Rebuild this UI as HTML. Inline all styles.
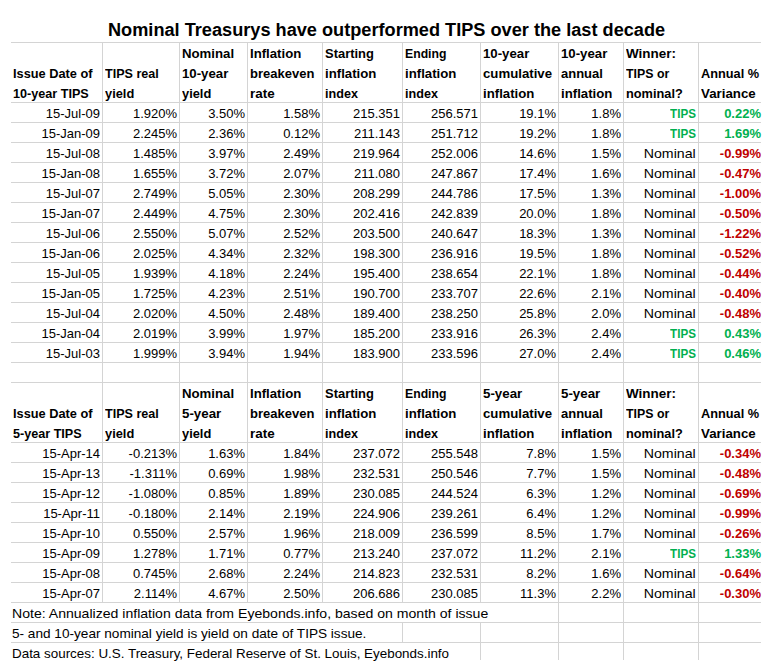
<!DOCTYPE html>
<html><head><meta charset="utf-8">
<style>
html,body{margin:0;padding:0;background:#fff;}
body{width:770px;height:668px;position:relative;overflow:hidden;font-family:"Liberation Sans",sans-serif;color:#000;}
.h{position:absolute;height:1px;background:#d4d4d4;}
.v{position:absolute;width:1px;background:#d4d4d4;}
.t{position:absolute;font-size:13px;line-height:20px;height:20px;white-space:nowrap;transform-origin:left center;}
.t.r{transform-origin:right center;}
.b{font-weight:bold;}
.g{color:#00b050;}
.rd{color:#c00000;}
.title{position:absolute;font-size:18px;font-weight:bold;line-height:20px;white-space:nowrap;transform-origin:left center;}
</style></head><body>
<div class="title" style="top:20px;left:108px;transform:scaleX(1.009)">Nominal Treasurys have outperformed TIPS over the last decade</div>
<div class="h" style="top:42px;left:11px;width:750px"></div>
<div class="h" style="top:102px;left:11px;width:750px"></div>
<div class="h" style="top:122px;left:11px;width:750px"></div>
<div class="h" style="top:142px;left:11px;width:750px"></div>
<div class="h" style="top:162px;left:11px;width:750px"></div>
<div class="h" style="top:182px;left:11px;width:750px"></div>
<div class="h" style="top:202px;left:11px;width:750px"></div>
<div class="h" style="top:222px;left:11px;width:750px"></div>
<div class="h" style="top:242px;left:11px;width:750px"></div>
<div class="h" style="top:262px;left:11px;width:750px"></div>
<div class="h" style="top:282px;left:11px;width:750px"></div>
<div class="h" style="top:302px;left:11px;width:750px"></div>
<div class="h" style="top:322px;left:11px;width:750px"></div>
<div class="h" style="top:342px;left:11px;width:750px"></div>
<div class="h" style="top:362px;left:11px;width:750px"></div>
<div class="h" style="top:382px;left:11px;width:750px"></div>
<div class="h" style="top:442px;left:11px;width:750px"></div>
<div class="h" style="top:462px;left:11px;width:750px"></div>
<div class="h" style="top:482px;left:11px;width:750px"></div>
<div class="h" style="top:502px;left:11px;width:750px"></div>
<div class="h" style="top:522px;left:11px;width:750px"></div>
<div class="h" style="top:542px;left:11px;width:750px"></div>
<div class="h" style="top:562px;left:11px;width:750px"></div>
<div class="h" style="top:582px;left:11px;width:750px"></div>
<div class="h" style="top:602px;left:11px;width:750px"></div>
<div class="h" style="top:622px;left:11px;width:750px"></div>
<div class="h" style="top:642px;left:11px;width:750px"></div>
<div class="v" style="left:102px;top:42px;height:20px"></div>
<div class="v" style="left:179px;top:42px;height:20px"></div>
<div class="v" style="left:247px;top:42px;height:20px"></div>
<div class="v" style="left:322px;top:42px;height:20px"></div>
<div class="v" style="left:402px;top:42px;height:20px"></div>
<div class="v" style="left:480px;top:42px;height:20px"></div>
<div class="v" style="left:558px;top:42px;height:20px"></div>
<div class="v" style="left:623px;top:42px;height:20px"></div>
<div class="v" style="left:698px;top:42px;height:20px"></div>
<div class="v" style="left:102px;top:62px;height:20px"></div>
<div class="v" style="left:179px;top:62px;height:20px"></div>
<div class="v" style="left:247px;top:62px;height:20px"></div>
<div class="v" style="left:322px;top:62px;height:20px"></div>
<div class="v" style="left:402px;top:62px;height:20px"></div>
<div class="v" style="left:480px;top:62px;height:20px"></div>
<div class="v" style="left:558px;top:62px;height:20px"></div>
<div class="v" style="left:623px;top:62px;height:20px"></div>
<div class="v" style="left:698px;top:62px;height:20px"></div>
<div class="v" style="left:102px;top:82px;height:20px"></div>
<div class="v" style="left:179px;top:82px;height:20px"></div>
<div class="v" style="left:247px;top:82px;height:20px"></div>
<div class="v" style="left:322px;top:82px;height:20px"></div>
<div class="v" style="left:402px;top:82px;height:20px"></div>
<div class="v" style="left:480px;top:82px;height:20px"></div>
<div class="v" style="left:558px;top:82px;height:20px"></div>
<div class="v" style="left:623px;top:82px;height:20px"></div>
<div class="v" style="left:698px;top:82px;height:20px"></div>
<div class="v" style="left:102px;top:102px;height:20px"></div>
<div class="v" style="left:179px;top:102px;height:20px"></div>
<div class="v" style="left:247px;top:102px;height:20px"></div>
<div class="v" style="left:322px;top:102px;height:20px"></div>
<div class="v" style="left:402px;top:102px;height:20px"></div>
<div class="v" style="left:480px;top:102px;height:20px"></div>
<div class="v" style="left:558px;top:102px;height:20px"></div>
<div class="v" style="left:623px;top:102px;height:20px"></div>
<div class="v" style="left:698px;top:102px;height:20px"></div>
<div class="v" style="left:102px;top:122px;height:20px"></div>
<div class="v" style="left:179px;top:122px;height:20px"></div>
<div class="v" style="left:247px;top:122px;height:20px"></div>
<div class="v" style="left:322px;top:122px;height:20px"></div>
<div class="v" style="left:402px;top:122px;height:20px"></div>
<div class="v" style="left:480px;top:122px;height:20px"></div>
<div class="v" style="left:558px;top:122px;height:20px"></div>
<div class="v" style="left:623px;top:122px;height:20px"></div>
<div class="v" style="left:698px;top:122px;height:20px"></div>
<div class="v" style="left:102px;top:142px;height:20px"></div>
<div class="v" style="left:179px;top:142px;height:20px"></div>
<div class="v" style="left:247px;top:142px;height:20px"></div>
<div class="v" style="left:322px;top:142px;height:20px"></div>
<div class="v" style="left:402px;top:142px;height:20px"></div>
<div class="v" style="left:480px;top:142px;height:20px"></div>
<div class="v" style="left:558px;top:142px;height:20px"></div>
<div class="v" style="left:623px;top:142px;height:20px"></div>
<div class="v" style="left:698px;top:142px;height:20px"></div>
<div class="v" style="left:102px;top:162px;height:20px"></div>
<div class="v" style="left:179px;top:162px;height:20px"></div>
<div class="v" style="left:247px;top:162px;height:20px"></div>
<div class="v" style="left:322px;top:162px;height:20px"></div>
<div class="v" style="left:402px;top:162px;height:20px"></div>
<div class="v" style="left:480px;top:162px;height:20px"></div>
<div class="v" style="left:558px;top:162px;height:20px"></div>
<div class="v" style="left:623px;top:162px;height:20px"></div>
<div class="v" style="left:698px;top:162px;height:20px"></div>
<div class="v" style="left:102px;top:182px;height:20px"></div>
<div class="v" style="left:179px;top:182px;height:20px"></div>
<div class="v" style="left:247px;top:182px;height:20px"></div>
<div class="v" style="left:322px;top:182px;height:20px"></div>
<div class="v" style="left:402px;top:182px;height:20px"></div>
<div class="v" style="left:480px;top:182px;height:20px"></div>
<div class="v" style="left:558px;top:182px;height:20px"></div>
<div class="v" style="left:623px;top:182px;height:20px"></div>
<div class="v" style="left:698px;top:182px;height:20px"></div>
<div class="v" style="left:102px;top:202px;height:20px"></div>
<div class="v" style="left:179px;top:202px;height:20px"></div>
<div class="v" style="left:247px;top:202px;height:20px"></div>
<div class="v" style="left:322px;top:202px;height:20px"></div>
<div class="v" style="left:402px;top:202px;height:20px"></div>
<div class="v" style="left:480px;top:202px;height:20px"></div>
<div class="v" style="left:558px;top:202px;height:20px"></div>
<div class="v" style="left:623px;top:202px;height:20px"></div>
<div class="v" style="left:698px;top:202px;height:20px"></div>
<div class="v" style="left:102px;top:222px;height:20px"></div>
<div class="v" style="left:179px;top:222px;height:20px"></div>
<div class="v" style="left:247px;top:222px;height:20px"></div>
<div class="v" style="left:322px;top:222px;height:20px"></div>
<div class="v" style="left:402px;top:222px;height:20px"></div>
<div class="v" style="left:480px;top:222px;height:20px"></div>
<div class="v" style="left:558px;top:222px;height:20px"></div>
<div class="v" style="left:623px;top:222px;height:20px"></div>
<div class="v" style="left:698px;top:222px;height:20px"></div>
<div class="v" style="left:102px;top:242px;height:20px"></div>
<div class="v" style="left:179px;top:242px;height:20px"></div>
<div class="v" style="left:247px;top:242px;height:20px"></div>
<div class="v" style="left:322px;top:242px;height:20px"></div>
<div class="v" style="left:402px;top:242px;height:20px"></div>
<div class="v" style="left:480px;top:242px;height:20px"></div>
<div class="v" style="left:558px;top:242px;height:20px"></div>
<div class="v" style="left:623px;top:242px;height:20px"></div>
<div class="v" style="left:698px;top:242px;height:20px"></div>
<div class="v" style="left:102px;top:262px;height:20px"></div>
<div class="v" style="left:179px;top:262px;height:20px"></div>
<div class="v" style="left:247px;top:262px;height:20px"></div>
<div class="v" style="left:322px;top:262px;height:20px"></div>
<div class="v" style="left:402px;top:262px;height:20px"></div>
<div class="v" style="left:480px;top:262px;height:20px"></div>
<div class="v" style="left:558px;top:262px;height:20px"></div>
<div class="v" style="left:623px;top:262px;height:20px"></div>
<div class="v" style="left:698px;top:262px;height:20px"></div>
<div class="v" style="left:102px;top:282px;height:20px"></div>
<div class="v" style="left:179px;top:282px;height:20px"></div>
<div class="v" style="left:247px;top:282px;height:20px"></div>
<div class="v" style="left:322px;top:282px;height:20px"></div>
<div class="v" style="left:402px;top:282px;height:20px"></div>
<div class="v" style="left:480px;top:282px;height:20px"></div>
<div class="v" style="left:558px;top:282px;height:20px"></div>
<div class="v" style="left:623px;top:282px;height:20px"></div>
<div class="v" style="left:698px;top:282px;height:20px"></div>
<div class="v" style="left:102px;top:302px;height:20px"></div>
<div class="v" style="left:179px;top:302px;height:20px"></div>
<div class="v" style="left:247px;top:302px;height:20px"></div>
<div class="v" style="left:322px;top:302px;height:20px"></div>
<div class="v" style="left:402px;top:302px;height:20px"></div>
<div class="v" style="left:480px;top:302px;height:20px"></div>
<div class="v" style="left:558px;top:302px;height:20px"></div>
<div class="v" style="left:623px;top:302px;height:20px"></div>
<div class="v" style="left:698px;top:302px;height:20px"></div>
<div class="v" style="left:102px;top:322px;height:20px"></div>
<div class="v" style="left:179px;top:322px;height:20px"></div>
<div class="v" style="left:247px;top:322px;height:20px"></div>
<div class="v" style="left:322px;top:322px;height:20px"></div>
<div class="v" style="left:402px;top:322px;height:20px"></div>
<div class="v" style="left:480px;top:322px;height:20px"></div>
<div class="v" style="left:558px;top:322px;height:20px"></div>
<div class="v" style="left:623px;top:322px;height:20px"></div>
<div class="v" style="left:698px;top:322px;height:20px"></div>
<div class="v" style="left:102px;top:342px;height:20px"></div>
<div class="v" style="left:179px;top:342px;height:20px"></div>
<div class="v" style="left:247px;top:342px;height:20px"></div>
<div class="v" style="left:322px;top:342px;height:20px"></div>
<div class="v" style="left:402px;top:342px;height:20px"></div>
<div class="v" style="left:480px;top:342px;height:20px"></div>
<div class="v" style="left:558px;top:342px;height:20px"></div>
<div class="v" style="left:623px;top:342px;height:20px"></div>
<div class="v" style="left:698px;top:342px;height:20px"></div>
<div class="v" style="left:102px;top:362px;height:20px"></div>
<div class="v" style="left:179px;top:362px;height:20px"></div>
<div class="v" style="left:247px;top:362px;height:20px"></div>
<div class="v" style="left:322px;top:362px;height:20px"></div>
<div class="v" style="left:402px;top:362px;height:20px"></div>
<div class="v" style="left:480px;top:362px;height:20px"></div>
<div class="v" style="left:558px;top:362px;height:20px"></div>
<div class="v" style="left:623px;top:362px;height:20px"></div>
<div class="v" style="left:698px;top:362px;height:20px"></div>
<div class="v" style="left:102px;top:382px;height:20px"></div>
<div class="v" style="left:179px;top:382px;height:20px"></div>
<div class="v" style="left:247px;top:382px;height:20px"></div>
<div class="v" style="left:322px;top:382px;height:20px"></div>
<div class="v" style="left:402px;top:382px;height:20px"></div>
<div class="v" style="left:480px;top:382px;height:20px"></div>
<div class="v" style="left:558px;top:382px;height:20px"></div>
<div class="v" style="left:623px;top:382px;height:20px"></div>
<div class="v" style="left:698px;top:382px;height:20px"></div>
<div class="v" style="left:102px;top:402px;height:20px"></div>
<div class="v" style="left:179px;top:402px;height:20px"></div>
<div class="v" style="left:247px;top:402px;height:20px"></div>
<div class="v" style="left:322px;top:402px;height:20px"></div>
<div class="v" style="left:402px;top:402px;height:20px"></div>
<div class="v" style="left:480px;top:402px;height:20px"></div>
<div class="v" style="left:558px;top:402px;height:20px"></div>
<div class="v" style="left:623px;top:402px;height:20px"></div>
<div class="v" style="left:698px;top:402px;height:20px"></div>
<div class="v" style="left:102px;top:422px;height:20px"></div>
<div class="v" style="left:179px;top:422px;height:20px"></div>
<div class="v" style="left:247px;top:422px;height:20px"></div>
<div class="v" style="left:322px;top:422px;height:20px"></div>
<div class="v" style="left:402px;top:422px;height:20px"></div>
<div class="v" style="left:480px;top:422px;height:20px"></div>
<div class="v" style="left:558px;top:422px;height:20px"></div>
<div class="v" style="left:623px;top:422px;height:20px"></div>
<div class="v" style="left:698px;top:422px;height:20px"></div>
<div class="v" style="left:102px;top:442px;height:20px"></div>
<div class="v" style="left:179px;top:442px;height:20px"></div>
<div class="v" style="left:247px;top:442px;height:20px"></div>
<div class="v" style="left:322px;top:442px;height:20px"></div>
<div class="v" style="left:402px;top:442px;height:20px"></div>
<div class="v" style="left:480px;top:442px;height:20px"></div>
<div class="v" style="left:558px;top:442px;height:20px"></div>
<div class="v" style="left:623px;top:442px;height:20px"></div>
<div class="v" style="left:698px;top:442px;height:20px"></div>
<div class="v" style="left:102px;top:462px;height:20px"></div>
<div class="v" style="left:179px;top:462px;height:20px"></div>
<div class="v" style="left:247px;top:462px;height:20px"></div>
<div class="v" style="left:322px;top:462px;height:20px"></div>
<div class="v" style="left:402px;top:462px;height:20px"></div>
<div class="v" style="left:480px;top:462px;height:20px"></div>
<div class="v" style="left:558px;top:462px;height:20px"></div>
<div class="v" style="left:623px;top:462px;height:20px"></div>
<div class="v" style="left:698px;top:462px;height:20px"></div>
<div class="v" style="left:102px;top:482px;height:20px"></div>
<div class="v" style="left:179px;top:482px;height:20px"></div>
<div class="v" style="left:247px;top:482px;height:20px"></div>
<div class="v" style="left:322px;top:482px;height:20px"></div>
<div class="v" style="left:402px;top:482px;height:20px"></div>
<div class="v" style="left:480px;top:482px;height:20px"></div>
<div class="v" style="left:558px;top:482px;height:20px"></div>
<div class="v" style="left:623px;top:482px;height:20px"></div>
<div class="v" style="left:698px;top:482px;height:20px"></div>
<div class="v" style="left:102px;top:502px;height:20px"></div>
<div class="v" style="left:179px;top:502px;height:20px"></div>
<div class="v" style="left:247px;top:502px;height:20px"></div>
<div class="v" style="left:322px;top:502px;height:20px"></div>
<div class="v" style="left:402px;top:502px;height:20px"></div>
<div class="v" style="left:480px;top:502px;height:20px"></div>
<div class="v" style="left:558px;top:502px;height:20px"></div>
<div class="v" style="left:623px;top:502px;height:20px"></div>
<div class="v" style="left:698px;top:502px;height:20px"></div>
<div class="v" style="left:102px;top:522px;height:20px"></div>
<div class="v" style="left:179px;top:522px;height:20px"></div>
<div class="v" style="left:247px;top:522px;height:20px"></div>
<div class="v" style="left:322px;top:522px;height:20px"></div>
<div class="v" style="left:402px;top:522px;height:20px"></div>
<div class="v" style="left:480px;top:522px;height:20px"></div>
<div class="v" style="left:558px;top:522px;height:20px"></div>
<div class="v" style="left:623px;top:522px;height:20px"></div>
<div class="v" style="left:698px;top:522px;height:20px"></div>
<div class="v" style="left:102px;top:542px;height:20px"></div>
<div class="v" style="left:179px;top:542px;height:20px"></div>
<div class="v" style="left:247px;top:542px;height:20px"></div>
<div class="v" style="left:322px;top:542px;height:20px"></div>
<div class="v" style="left:402px;top:542px;height:20px"></div>
<div class="v" style="left:480px;top:542px;height:20px"></div>
<div class="v" style="left:558px;top:542px;height:20px"></div>
<div class="v" style="left:623px;top:542px;height:20px"></div>
<div class="v" style="left:698px;top:542px;height:20px"></div>
<div class="v" style="left:102px;top:562px;height:20px"></div>
<div class="v" style="left:179px;top:562px;height:20px"></div>
<div class="v" style="left:247px;top:562px;height:20px"></div>
<div class="v" style="left:322px;top:562px;height:20px"></div>
<div class="v" style="left:402px;top:562px;height:20px"></div>
<div class="v" style="left:480px;top:562px;height:20px"></div>
<div class="v" style="left:558px;top:562px;height:20px"></div>
<div class="v" style="left:623px;top:562px;height:20px"></div>
<div class="v" style="left:698px;top:562px;height:20px"></div>
<div class="v" style="left:102px;top:582px;height:20px"></div>
<div class="v" style="left:179px;top:582px;height:20px"></div>
<div class="v" style="left:247px;top:582px;height:20px"></div>
<div class="v" style="left:322px;top:582px;height:20px"></div>
<div class="v" style="left:402px;top:582px;height:20px"></div>
<div class="v" style="left:480px;top:582px;height:20px"></div>
<div class="v" style="left:558px;top:582px;height:20px"></div>
<div class="v" style="left:623px;top:582px;height:20px"></div>
<div class="v" style="left:698px;top:582px;height:20px"></div>
<div class="v" style="left:558px;top:602px;height:20px"></div>
<div class="v" style="left:623px;top:602px;height:20px"></div>
<div class="v" style="left:698px;top:602px;height:20px"></div>
<div class="v" style="left:402px;top:622px;height:20px"></div>
<div class="v" style="left:480px;top:622px;height:20px"></div>
<div class="v" style="left:558px;top:622px;height:20px"></div>
<div class="v" style="left:623px;top:622px;height:20px"></div>
<div class="v" style="left:698px;top:622px;height:20px"></div>
<div class="v" style="left:480px;top:642px;height:18px"></div>
<div class="v" style="left:558px;top:642px;height:18px"></div>
<div class="v" style="left:623px;top:642px;height:18px"></div>
<div class="v" style="left:698px;top:642px;height:18px"></div>
<div class="t b" style="top:44px;left:182px;transform:scaleX(1.016);">Nominal</div>
<div class="t b" style="top:44px;left:250px;transform:scaleX(1.0148);">Inflation</div>
<div class="t b" style="top:44px;left:325px;transform:scaleX(0.995);">Starting</div>
<div class="t b" style="top:44px;left:405px;transform:scaleX(0.9407);">Ending</div>
<div class="t b" style="top:44px;left:483px;transform:scaleX(1.0167);">10-year</div>
<div class="t b" style="top:44px;left:561px;transform:scaleX(1.0167);">10-year</div>
<div class="t b" style="top:44px;left:626px;transform:scaleX(1.0364);">Winner:</div>
<div class="t b" style="top:64px;left:12.5px;transform:scaleX(0.9826);">Issue Date of</div>
<div class="t b" style="top:64px;left:105px;transform:scaleX(0.9658);">TIPS real</div>
<div class="t b" style="top:64px;left:182px;transform:scaleX(1.0167);">10-year</div>
<div class="t b" style="top:64px;left:250px;">breakeven</div>
<div class="t b" style="top:64px;left:325px;transform:scaleX(1.0161);">inflation</div>
<div class="t b" style="top:64px;left:405px;transform:scaleX(1.0161);">inflation</div>
<div class="t b" style="top:64px;left:483px;transform:scaleX(1.016);">cumulative</div>
<div class="t b" style="top:64px;left:561px;">annual</div>
<div class="t b" style="top:64px;left:626px;transform:scaleX(0.9505);">TIPS or</div>
<div class="t b" style="top:64px;left:701px;transform:scaleX(0.9818);">Annual %</div>
<div class="t b" style="top:84px;left:12.5px;transform:scaleX(0.9705);">10-year TIPS</div>
<div class="t b" style="top:84px;left:105px;transform:scaleX(0.9878);">yield</div>
<div class="t b" style="top:84px;left:182px;transform:scaleX(0.9878);">yield</div>
<div class="t b" style="top:84px;left:250px;transform:scaleX(1.0323);">rate</div>
<div class="t b" style="top:84px;left:325px;transform:scaleX(0.9691);">index</div>
<div class="t b" style="top:84px;left:405px;transform:scaleX(0.9691);">index</div>
<div class="t b" style="top:84px;left:483px;transform:scaleX(1.0161);">inflation</div>
<div class="t b" style="top:84px;left:561px;transform:scaleX(1.0161);">inflation</div>
<div class="t b" style="top:84px;left:626px;transform:scaleX(0.9826);">nominal?</div>
<div class="t b" style="top:84px;left:701px;transform:scaleX(1.0226);">Variance</div>
<div class="t r" style="top:104px;right:670px;">15-Jul-09</div>
<div class="t r" style="top:104px;right:593px;">1.920%</div>
<div class="t r" style="top:104px;right:525px;">3.50%</div>
<div class="t r" style="top:104px;right:450px;">1.58%</div>
<div class="t r" style="top:104px;right:370px;">215.351</div>
<div class="t r" style="top:104px;right:292px;">256.571</div>
<div class="t r" style="top:104px;right:214px;">19.1%</div>
<div class="t r" style="top:104px;right:149px;">1.8%</div>
<div class="t b g r" style="top:104px;right:74px;transform:scaleX(0.8922);">TIPS</div>
<div class="t b g r" style="top:104px;right:9px;">0.22%</div>
<div class="t r" style="top:124px;right:670px;">15-Jan-09</div>
<div class="t r" style="top:124px;right:593px;">2.245%</div>
<div class="t r" style="top:124px;right:525px;">2.36%</div>
<div class="t r" style="top:124px;right:450px;">0.12%</div>
<div class="t r" style="top:124px;right:370px;">211.143</div>
<div class="t r" style="top:124px;right:292px;">251.712</div>
<div class="t r" style="top:124px;right:214px;">19.2%</div>
<div class="t r" style="top:124px;right:149px;">1.8%</div>
<div class="t b g r" style="top:124px;right:74px;transform:scaleX(0.8922);">TIPS</div>
<div class="t b g r" style="top:124px;right:9px;">1.69%</div>
<div class="t r" style="top:144px;right:670px;">15-Jul-08</div>
<div class="t r" style="top:144px;right:593px;">1.485%</div>
<div class="t r" style="top:144px;right:525px;">3.97%</div>
<div class="t r" style="top:144px;right:450px;">2.49%</div>
<div class="t r" style="top:144px;right:370px;">219.964</div>
<div class="t r" style="top:144px;right:292px;">252.006</div>
<div class="t r" style="top:144px;right:214px;">14.6%</div>
<div class="t r" style="top:144px;right:149px;">1.5%</div>
<div class="t r" style="top:144px;right:74px;transform:scaleX(1.0899);">Nominal</div>
<div class="t b rd r" style="top:144px;right:9px;">-0.99%</div>
<div class="t r" style="top:164px;right:670px;">15-Jan-08</div>
<div class="t r" style="top:164px;right:593px;">1.655%</div>
<div class="t r" style="top:164px;right:525px;">3.72%</div>
<div class="t r" style="top:164px;right:450px;">2.07%</div>
<div class="t r" style="top:164px;right:370px;">211.080</div>
<div class="t r" style="top:164px;right:292px;">247.867</div>
<div class="t r" style="top:164px;right:214px;">17.4%</div>
<div class="t r" style="top:164px;right:149px;">1.6%</div>
<div class="t r" style="top:164px;right:74px;transform:scaleX(1.0899);">Nominal</div>
<div class="t b rd r" style="top:164px;right:9px;">-0.47%</div>
<div class="t r" style="top:184px;right:670px;">15-Jul-07</div>
<div class="t r" style="top:184px;right:593px;">2.749%</div>
<div class="t r" style="top:184px;right:525px;">5.05%</div>
<div class="t r" style="top:184px;right:450px;">2.30%</div>
<div class="t r" style="top:184px;right:370px;">208.299</div>
<div class="t r" style="top:184px;right:292px;">244.786</div>
<div class="t r" style="top:184px;right:214px;">17.5%</div>
<div class="t r" style="top:184px;right:149px;">1.3%</div>
<div class="t r" style="top:184px;right:74px;transform:scaleX(1.0899);">Nominal</div>
<div class="t b rd r" style="top:184px;right:9px;">-1.00%</div>
<div class="t r" style="top:204px;right:670px;">15-Jan-07</div>
<div class="t r" style="top:204px;right:593px;">2.449%</div>
<div class="t r" style="top:204px;right:525px;">4.75%</div>
<div class="t r" style="top:204px;right:450px;">2.30%</div>
<div class="t r" style="top:204px;right:370px;">202.416</div>
<div class="t r" style="top:204px;right:292px;">242.839</div>
<div class="t r" style="top:204px;right:214px;">20.0%</div>
<div class="t r" style="top:204px;right:149px;">1.8%</div>
<div class="t r" style="top:204px;right:74px;transform:scaleX(1.0899);">Nominal</div>
<div class="t b rd r" style="top:204px;right:9px;">-0.50%</div>
<div class="t r" style="top:224px;right:670px;">15-Jul-06</div>
<div class="t r" style="top:224px;right:593px;">2.550%</div>
<div class="t r" style="top:224px;right:525px;">5.07%</div>
<div class="t r" style="top:224px;right:450px;">2.52%</div>
<div class="t r" style="top:224px;right:370px;">203.500</div>
<div class="t r" style="top:224px;right:292px;">240.647</div>
<div class="t r" style="top:224px;right:214px;">18.3%</div>
<div class="t r" style="top:224px;right:149px;">1.3%</div>
<div class="t r" style="top:224px;right:74px;transform:scaleX(1.0899);">Nominal</div>
<div class="t b rd r" style="top:224px;right:9px;">-1.22%</div>
<div class="t r" style="top:244px;right:670px;">15-Jan-06</div>
<div class="t r" style="top:244px;right:593px;">2.025%</div>
<div class="t r" style="top:244px;right:525px;">4.34%</div>
<div class="t r" style="top:244px;right:450px;">2.32%</div>
<div class="t r" style="top:244px;right:370px;">198.300</div>
<div class="t r" style="top:244px;right:292px;">236.916</div>
<div class="t r" style="top:244px;right:214px;">19.5%</div>
<div class="t r" style="top:244px;right:149px;">1.8%</div>
<div class="t r" style="top:244px;right:74px;transform:scaleX(1.0899);">Nominal</div>
<div class="t b rd r" style="top:244px;right:9px;">-0.52%</div>
<div class="t r" style="top:264px;right:670px;">15-Jul-05</div>
<div class="t r" style="top:264px;right:593px;">1.939%</div>
<div class="t r" style="top:264px;right:525px;">4.18%</div>
<div class="t r" style="top:264px;right:450px;">2.24%</div>
<div class="t r" style="top:264px;right:370px;">195.400</div>
<div class="t r" style="top:264px;right:292px;">238.654</div>
<div class="t r" style="top:264px;right:214px;">22.1%</div>
<div class="t r" style="top:264px;right:149px;">1.8%</div>
<div class="t r" style="top:264px;right:74px;transform:scaleX(1.0899);">Nominal</div>
<div class="t b rd r" style="top:264px;right:9px;">-0.44%</div>
<div class="t r" style="top:284px;right:670px;">15-Jan-05</div>
<div class="t r" style="top:284px;right:593px;">1.725%</div>
<div class="t r" style="top:284px;right:525px;">4.23%</div>
<div class="t r" style="top:284px;right:450px;">2.51%</div>
<div class="t r" style="top:284px;right:370px;">190.700</div>
<div class="t r" style="top:284px;right:292px;">233.707</div>
<div class="t r" style="top:284px;right:214px;">22.6%</div>
<div class="t r" style="top:284px;right:149px;">2.1%</div>
<div class="t r" style="top:284px;right:74px;transform:scaleX(1.0899);">Nominal</div>
<div class="t b rd r" style="top:284px;right:9px;">-0.40%</div>
<div class="t r" style="top:304px;right:670px;">15-Jul-04</div>
<div class="t r" style="top:304px;right:593px;">2.020%</div>
<div class="t r" style="top:304px;right:525px;">4.50%</div>
<div class="t r" style="top:304px;right:450px;">2.48%</div>
<div class="t r" style="top:304px;right:370px;">189.400</div>
<div class="t r" style="top:304px;right:292px;">238.250</div>
<div class="t r" style="top:304px;right:214px;">25.8%</div>
<div class="t r" style="top:304px;right:149px;">2.0%</div>
<div class="t r" style="top:304px;right:74px;transform:scaleX(1.0899);">Nominal</div>
<div class="t b rd r" style="top:304px;right:9px;">-0.48%</div>
<div class="t r" style="top:324px;right:670px;">15-Jan-04</div>
<div class="t r" style="top:324px;right:593px;">2.019%</div>
<div class="t r" style="top:324px;right:525px;">3.99%</div>
<div class="t r" style="top:324px;right:450px;">1.97%</div>
<div class="t r" style="top:324px;right:370px;">185.200</div>
<div class="t r" style="top:324px;right:292px;">233.916</div>
<div class="t r" style="top:324px;right:214px;">26.3%</div>
<div class="t r" style="top:324px;right:149px;">2.4%</div>
<div class="t b g r" style="top:324px;right:74px;transform:scaleX(0.8922);">TIPS</div>
<div class="t b g r" style="top:324px;right:9px;">0.43%</div>
<div class="t r" style="top:344px;right:670px;">15-Jul-03</div>
<div class="t r" style="top:344px;right:593px;">1.999%</div>
<div class="t r" style="top:344px;right:525px;">3.94%</div>
<div class="t r" style="top:344px;right:450px;">1.94%</div>
<div class="t r" style="top:344px;right:370px;">183.900</div>
<div class="t r" style="top:344px;right:292px;">233.596</div>
<div class="t r" style="top:344px;right:214px;">27.0%</div>
<div class="t r" style="top:344px;right:149px;">2.4%</div>
<div class="t b g r" style="top:344px;right:74px;transform:scaleX(0.8922);">TIPS</div>
<div class="t b g r" style="top:344px;right:9px;">0.46%</div>
<div class="t b" style="top:384px;left:182px;transform:scaleX(1.016);">Nominal</div>
<div class="t b" style="top:384px;left:250px;transform:scaleX(1.0148);">Inflation</div>
<div class="t b" style="top:384px;left:325px;transform:scaleX(0.995);">Starting</div>
<div class="t b" style="top:384px;left:405px;transform:scaleX(0.9407);">Ending</div>
<div class="t b" style="top:384px;left:483px;transform:scaleX(1.0241);">5-year</div>
<div class="t b" style="top:384px;left:561px;transform:scaleX(1.0241);">5-year</div>
<div class="t b" style="top:384px;left:626px;transform:scaleX(1.0364);">Winner:</div>
<div class="t b" style="top:404px;left:12.5px;transform:scaleX(0.9826);">Issue Date of</div>
<div class="t b" style="top:404px;left:105px;transform:scaleX(0.9658);">TIPS real</div>
<div class="t b" style="top:404px;left:182px;transform:scaleX(1.0241);">5-year</div>
<div class="t b" style="top:404px;left:250px;">breakeven</div>
<div class="t b" style="top:404px;left:325px;transform:scaleX(1.0161);">inflation</div>
<div class="t b" style="top:404px;left:405px;transform:scaleX(1.0161);">inflation</div>
<div class="t b" style="top:404px;left:483px;transform:scaleX(1.016);">cumulative</div>
<div class="t b" style="top:404px;left:561px;">annual</div>
<div class="t b" style="top:404px;left:626px;transform:scaleX(0.9505);">TIPS or</div>
<div class="t b" style="top:404px;left:701px;transform:scaleX(0.9818);">Annual %</div>
<div class="t b" style="top:424px;left:12.5px;transform:scaleX(0.9698);">5-year TIPS</div>
<div class="t b" style="top:424px;left:105px;transform:scaleX(0.9878);">yield</div>
<div class="t b" style="top:424px;left:182px;transform:scaleX(0.9878);">yield</div>
<div class="t b" style="top:424px;left:250px;transform:scaleX(1.0323);">rate</div>
<div class="t b" style="top:424px;left:325px;transform:scaleX(0.9691);">index</div>
<div class="t b" style="top:424px;left:405px;transform:scaleX(0.9691);">index</div>
<div class="t b" style="top:424px;left:483px;transform:scaleX(1.0161);">inflation</div>
<div class="t b" style="top:424px;left:561px;transform:scaleX(1.0161);">inflation</div>
<div class="t b" style="top:424px;left:626px;transform:scaleX(0.9826);">nominal?</div>
<div class="t b" style="top:424px;left:701px;transform:scaleX(1.0226);">Variance</div>
<div class="t r" style="top:444px;right:670px;">15-Apr-14</div>
<div class="t r" style="top:444px;right:593px;">-0.213%</div>
<div class="t r" style="top:444px;right:525px;">1.63%</div>
<div class="t r" style="top:444px;right:450px;">1.84%</div>
<div class="t r" style="top:444px;right:370px;">237.072</div>
<div class="t r" style="top:444px;right:292px;">255.548</div>
<div class="t r" style="top:444px;right:214px;">7.8%</div>
<div class="t r" style="top:444px;right:149px;">1.5%</div>
<div class="t r" style="top:444px;right:74px;transform:scaleX(1.0899);">Nominal</div>
<div class="t b rd r" style="top:444px;right:9px;">-0.34%</div>
<div class="t r" style="top:464px;right:670px;">15-Apr-13</div>
<div class="t r" style="top:464px;right:593px;">-1.311%</div>
<div class="t r" style="top:464px;right:525px;">0.69%</div>
<div class="t r" style="top:464px;right:450px;">1.98%</div>
<div class="t r" style="top:464px;right:370px;">232.531</div>
<div class="t r" style="top:464px;right:292px;">250.546</div>
<div class="t r" style="top:464px;right:214px;">7.7%</div>
<div class="t r" style="top:464px;right:149px;">1.5%</div>
<div class="t r" style="top:464px;right:74px;transform:scaleX(1.0899);">Nominal</div>
<div class="t b rd r" style="top:464px;right:9px;">-0.48%</div>
<div class="t r" style="top:484px;right:670px;">15-Apr-12</div>
<div class="t r" style="top:484px;right:593px;">-1.080%</div>
<div class="t r" style="top:484px;right:525px;">0.85%</div>
<div class="t r" style="top:484px;right:450px;">1.89%</div>
<div class="t r" style="top:484px;right:370px;">230.085</div>
<div class="t r" style="top:484px;right:292px;">244.524</div>
<div class="t r" style="top:484px;right:214px;">6.3%</div>
<div class="t r" style="top:484px;right:149px;">1.2%</div>
<div class="t r" style="top:484px;right:74px;transform:scaleX(1.0899);">Nominal</div>
<div class="t b rd r" style="top:484px;right:9px;">-0.69%</div>
<div class="t r" style="top:504px;right:670px;">15-Apr-11</div>
<div class="t r" style="top:504px;right:593px;">-0.180%</div>
<div class="t r" style="top:504px;right:525px;">2.14%</div>
<div class="t r" style="top:504px;right:450px;">2.19%</div>
<div class="t r" style="top:504px;right:370px;">224.906</div>
<div class="t r" style="top:504px;right:292px;">239.261</div>
<div class="t r" style="top:504px;right:214px;">6.4%</div>
<div class="t r" style="top:504px;right:149px;">1.2%</div>
<div class="t r" style="top:504px;right:74px;transform:scaleX(1.0899);">Nominal</div>
<div class="t b rd r" style="top:504px;right:9px;">-0.99%</div>
<div class="t r" style="top:524px;right:670px;">15-Apr-10</div>
<div class="t r" style="top:524px;right:593px;">0.550%</div>
<div class="t r" style="top:524px;right:525px;">2.57%</div>
<div class="t r" style="top:524px;right:450px;">1.96%</div>
<div class="t r" style="top:524px;right:370px;">218.009</div>
<div class="t r" style="top:524px;right:292px;">236.599</div>
<div class="t r" style="top:524px;right:214px;">8.5%</div>
<div class="t r" style="top:524px;right:149px;">1.7%</div>
<div class="t r" style="top:524px;right:74px;transform:scaleX(1.0899);">Nominal</div>
<div class="t b rd r" style="top:524px;right:9px;">-0.26%</div>
<div class="t r" style="top:544px;right:670px;">15-Apr-09</div>
<div class="t r" style="top:544px;right:593px;">1.278%</div>
<div class="t r" style="top:544px;right:525px;">1.71%</div>
<div class="t r" style="top:544px;right:450px;">0.77%</div>
<div class="t r" style="top:544px;right:370px;">213.240</div>
<div class="t r" style="top:544px;right:292px;">237.072</div>
<div class="t r" style="top:544px;right:214px;">11.2%</div>
<div class="t r" style="top:544px;right:149px;">2.1%</div>
<div class="t b g r" style="top:544px;right:74px;transform:scaleX(0.8922);">TIPS</div>
<div class="t b g r" style="top:544px;right:9px;">1.33%</div>
<div class="t r" style="top:564px;right:670px;">15-Apr-08</div>
<div class="t r" style="top:564px;right:593px;">0.745%</div>
<div class="t r" style="top:564px;right:525px;">2.68%</div>
<div class="t r" style="top:564px;right:450px;">2.24%</div>
<div class="t r" style="top:564px;right:370px;">214.823</div>
<div class="t r" style="top:564px;right:292px;">232.531</div>
<div class="t r" style="top:564px;right:214px;">8.2%</div>
<div class="t r" style="top:564px;right:149px;">1.6%</div>
<div class="t r" style="top:564px;right:74px;transform:scaleX(1.0899);">Nominal</div>
<div class="t b rd r" style="top:564px;right:9px;">-0.64%</div>
<div class="t r" style="top:584px;right:670px;">15-Apr-07</div>
<div class="t r" style="top:584px;right:593px;">2.114%</div>
<div class="t r" style="top:584px;right:525px;">4.67%</div>
<div class="t r" style="top:584px;right:450px;">2.50%</div>
<div class="t r" style="top:584px;right:370px;">206.686</div>
<div class="t r" style="top:584px;right:292px;">230.085</div>
<div class="t r" style="top:584px;right:214px;">11.3%</div>
<div class="t r" style="top:584px;right:149px;">2.2%</div>
<div class="t r" style="top:584px;right:74px;transform:scaleX(1.0899);">Nominal</div>
<div class="t b rd r" style="top:584px;right:9px;">-0.30%</div>
<div class="t" style="top:604px;left:12px;transform:scaleX(1.0821);">Note: Annualized inflation data from Eyebonds.info, based on month of issue</div>
<div class="t" style="top:624px;left:12px;transform:scaleX(1.0464);">5- and 10-year nominal yield is yield on date of TIPS issue.</div>
<div class="t" style="top:644px;left:12px;transform:scaleX(1.031);">Data sources: U.S. Treasury, Federal Reserve of St. Louis, Eyebonds.info</div>
</body></html>
